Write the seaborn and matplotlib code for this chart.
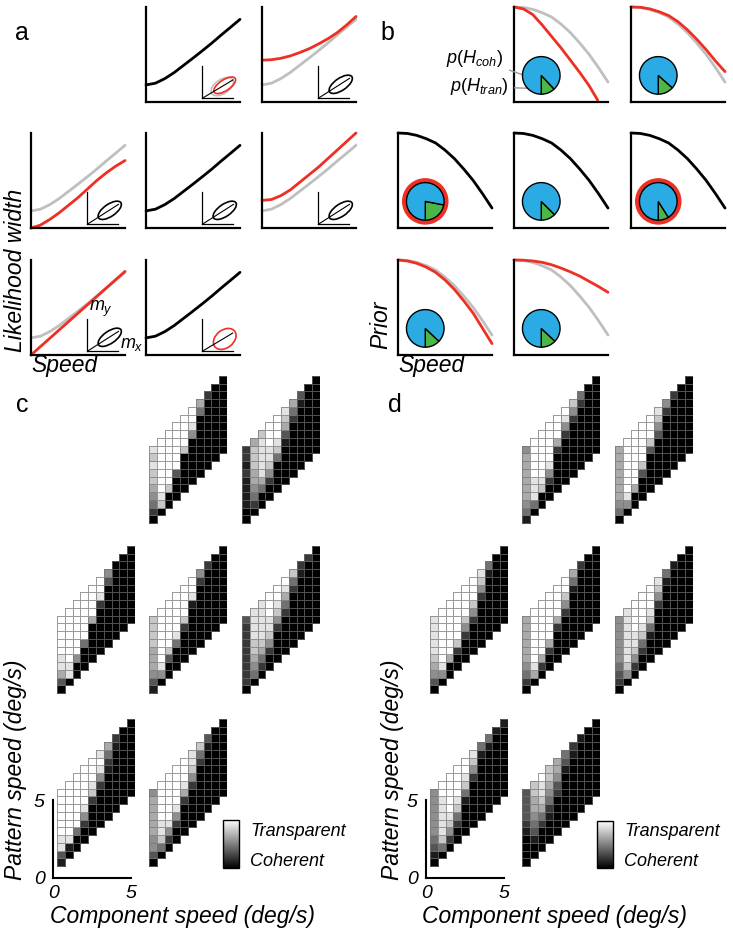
import numpy as np
import pandas as pd
import matplotlib
matplotlib.use("Agg")
import matplotlib.pyplot as plt
import seaborn as sns
from matplotlib.patches import Ellipse, Circle

# ---- panel a / b schematic curves (arbitrary units) ----
speed = [0, 1, 2, 3, 4, 5, 6, 7, 8, 9, 10]

# a: likelihood width vs speed
width_base = [1.8, 1.98, 2.46, 3.1, 3.86, 4.62, 5.4, 6.2, 7.05, 7.87, 8.7]
width_raised = [4.4, 4.45, 4.6, 4.85, 5.2, 5.6, 6.1, 6.65, 7.3, 8.1, 9.0]
width_no_floor = [0.0, 0.3, 0.9, 1.6, 2.4, 3.2, 4.1, 5.0, 5.8, 6.5, 7.1]
width_shifted = [2.9, 3.0, 3.4, 4.0, 4.8, 5.6, 6.4, 7.3, 8.2, 9.1, 10.0]
speed_linear = [0, 5, 10]
width_linear = [0.0, 4.4, 8.8]

# b: prior vs speed
prior_base = [10.0, 9.95, 9.75, 9.4, 8.95, 8.2, 7.3, 6.2, 5.0, 3.6, 2.1]
speed_narrow = [0, 1, 2, 3, 4, 5, 6, 7, 8, 8.9]
prior_narrow = [10.0, 9.8, 9.2, 8.1, 6.9, 5.7, 4.4, 3.1, 1.7, 0.2]
prior_slight = [10.0, 9.97, 9.8, 9.5, 9.1, 8.45, 7.6, 6.6, 5.5, 4.3, 3.2]
prior_low = [10.0, 9.9, 9.65, 9.25, 8.7, 7.9, 6.9, 5.7, 4.4, 2.8, 1.2]
prior_wide = [10.0, 9.98, 9.9, 9.75, 9.5, 9.15, 8.75, 8.3, 7.75, 7.2, 6.6]

# b: p(H_tran) share of each pie, and which pies get the red ring
p_tran = [0.12, 0.135, 0.22, 0.125, 0.09, 0.13, 0.13]
ring = [False, False, True, False, True, False, False]

# ---- panels c / d: model percepts ----
component = [0.5, 1.0, 1.5, 2.0, 2.5, 3.0, 3.5, 4.0, 4.5, 5.0]
pattern = [1.0, 1.5, 2.0, 2.5, 3.0, 3.5, 4.0, 4.5, 5.0, 5.5,
           6.0, 6.5, 7.0, 7.5, 8.0, 8.5, 9.0, 9.5, 10.0]
# one string per component speed, 10 cells from lowest pattern speed up
# 0 = coherent (black) ... 9 = transparent (white)
heat_c1 = ["0245677878", "0789999999", "0079999999", "0003999999", "0000079999",
           "0000005899", "0000000046", "0000000002", "0000000000", "0000000000"]
heat_c2 = ["0011112122", "0245667776", "0046888887", "0025788999", "0000478999",
           "0000013678", "0000000246", "0000000013", "0000000000", "0000000000"]
heat_c3 = ["0368899999", "0889999999", "0059999999", "0004999999", "0000069999",
           "0000002899", "0000000035", "0000000000", "0000000000", "0000000000"]
heat_c4 = ["1356667777", "0589999999", "0037999999", "0004899999", "0000279999",
           "0000001899", "0000000025", "0000000002", "0000000000", "0000000000"]
heat_c5 = ["0222222223", "0456778888", "0246788888", "0025788999", "0000257899",
           "0000024689", "0000000247", "0000000012", "0000000002", "0000000000"]
heat_c6 = ["1388999999", "0189999999", "0049999999", "0025899999", "0000278999",
           "0000025898", "0000001246", "0000000012", "0000000000", "0000000000"]
heat_c7 = ["0355666665", "0478899999", "0258999999", "0025899999", "0000268999",
           "0000025788", "0000000247", "0000000013", "0000000000", "0000000000"]

heat_d1 = ["1456666665", "0488899999", "0078999999", "0025899999", "0000026999",
           "0000002589", "0000000257", "0000000024", "0000000000", "0000000000"]
heat_d2 = ["0456666666", "0589999999", "0069999999", "0003799999", "0000037999",
           "0000003578", "0000000025", "0000000002", "0000000000", "0000000000"]
heat_d3 = ["0356788888", "0589999999", "0069999999", "0027999999", "0002579999",
           "0000257999", "0000002578", "0000000014", "0000000000", "0000000000"]
heat_d4 = ["0245666666", "0689999999", "0269999999", "0026999999", "0000269999",
           "0000025799", "0000000146", "0000000002", "0000000000", "0000000000"]
heat_d5 = ["0234555555", "0578888888", "0257889999", "0024789999", "0001478999",
           "0000002578", "0000000014", "0000000001", "0000000000", "0000000000"]
heat_d6 = ["0134555555", "0478888899", "0257899999", "0024789999", "0000147899",
           "0000002578", "0000000014", "0000000014", "0000000001", "0000000001"]
heat_d7 = ["0000123333", "0013456677", "0002467889", "0001245677", "0000023566",
           "0000000134", "0000000012", "0000000001", "0000000000", "0000000000"]

RED = '#ee2f24'
GRAY = '#bfbfbf'
BLUE = '#2aabe3'
GREEN = '#4cb649'
GRID = (0.45, 0.45, 0.45, 0.7)   # cell outline, semi transparent

sns.set_theme(style="white")
plt.rcParams['font.family'] = ['Liberation Sans', 'DejaVu Sans']
plt.rcParams['mathtext.fontset'] = 'custom'
plt.rcParams['mathtext.rm'] = 'Liberation Sans'
plt.rcParams['mathtext.it'] = 'Liberation Sans:italic'
plt.rcParams['text.color'] = 'black'
plt.rcParams['xtick.color'] = 'black'
plt.rcParams['ytick.color'] = 'black'

W, H = 733, 935
fig = plt.figure(figsize=(W / 100, H / 100), dpi=100)


def px_axes(x, y, w, h):
    """axes placed in pixel units measured from the top-left corner"""
    return fig.add_axes([x / W, 1 - (y + h) / H, w / W, h / H])


def line_axes(x, y):
    ax = px_axes(x, y, 94, 95)
    ax.set_xlim(0, 10)
    ax.set_ylim(0, 10)
    ax.set_xticks([])
    ax.set_yticks([])
    sns.despine(ax=ax)
    for side in ('left', 'bottom'):
        ax.spines[side].set_linewidth(1.6)
        ax.spines[side].set_color('black')
    ax.patch.set_visible(False)
    return ax


def draw_curves(ax, curves):
    for x, y, col in curves:
        sns.lineplot(x=x, y=y, ax=ax, color=col, lw=2.0, clip_on=False)


def ellipse_inset(ax, shapes):
    ins = ax.inset_axes([0.6, 0.04, 0.33, 0.34])
    ins.set_xlim(0, 1)
    ins.set_ylim(0, 1)
    ins.set_xticks([])
    ins.set_yticks([])
    sns.despine(ax=ins)
    for side in ('left', 'bottom'):
        ins.spines[side].set_linewidth(0.9)
        ins.spines[side].set_color('black')
    ins.patch.set_visible(False)
    for cx, cy, major, minor, ang, col in shapes:
        ins.add_patch(Ellipse((cx, cy), major, minor, angle=ang, fill=False,
                              ec=col, lw=1.2, clip_on=False))
    cx, cy, major, _, ang, _ = shapes[-1]
    t = np.deg2rad(ang)
    ins.plot([0, cx + 0.4 * major * np.cos(t)], [0, cy + 0.4 * major * np.sin(t)],
             color='black', lw=0.8, clip_on=False)
    return ins


def pie_inset(ax, p, red_ring):
    ins = ax.inset_axes([0.04, 0.03, 0.5, 0.5])
    if red_ring:
        ins.add_patch(Circle((0, 0), 1.2, color=RED, zorder=0))
    ins.pie([p, 1 - p], colors=[GREEN, BLUE], startangle=-90, counterclock=True,
            radius=1, wedgeprops=dict(edgecolor='black', linewidth=1.0))
    ins.set_xlim(-1.25, 1.25)
    ins.set_ylim(-1.25, 1.25)
    ins.axis('off')
    return ins


slots = [(0, 1), (0, 2), (1, 0), (1, 1), (1, 2), (2, 0), (2, 1)]
line_rows = [7, 133, 260]
a_cols = [31, 146, 262]
b_cols = [398, 514, 631]

a_curves = [
    [(speed, width_base, 'black')],
    [(speed, width_base, GRAY), (speed, width_raised, RED)],
    [(speed, width_base, GRAY), (speed, width_no_floor, RED)],
    [(speed, width_base, 'black')],
    [(speed, width_base, GRAY), (speed, width_shifted, RED)],
    [(speed, width_base, GRAY), (speed_linear, width_linear, RED)],
    [(speed, width_base, 'black')],
]
std_ellipse = (0.72, 0.43, 0.86, 0.38, 33, 'black')
a_ellipses = [
    [(0.64, 0.36, 0.80, 0.44, 32, GRAY), (0.72, 0.40, 0.80, 0.34, 32, RED)],
    [std_ellipse], [std_ellipse], [std_ellipse], [std_ellipse], [std_ellipse],
    [(0.72, 0.38, 0.80, 0.56, 35, RED)],
]

b_curves = [
    [(speed, prior_base, GRAY), (speed_narrow, prior_narrow, RED)],
    [(speed, prior_base, GRAY), (speed, prior_slight, RED)],
    [(speed, prior_base, 'black')],
    [(speed, prior_base, 'black')],
    [(speed, prior_base, 'black')],
    [(speed, prior_base, GRAY), (speed, prior_low, RED)],
    [(speed, prior_base, GRAY), (speed, prior_wide, RED)],
]

# panel a
for i, (r, c) in enumerate(slots):
    ax = line_axes(a_cols[c], line_rows[r])
    draw_curves(ax, a_curves[i])
    ins = ellipse_inset(ax, a_ellipses[i])
    if i == 5:
        ins.text(0.05, 1.0, '$m_y$', ha='left', va='bottom', fontsize=13)
        ins.text(1.05, -0.05, '$m_x$', ha='left', va='bottom', fontsize=13)

# panel b
for i, (r, c) in enumerate(slots):
    ax = line_axes(b_cols[c], line_rows[r])
    draw_curves(ax, b_curves[i])
    pie_inset(ax, p_tran[i], ring[i])
    if i == 0:
        ax.annotate('$p(H_{coh})$', xy=(0.17, 0.26), xytext=(-0.11, 0.46),
                    xycoords='axes fraction', textcoords='axes fraction',
                    ha='right', va='center', fontsize=13, annotation_clip=False,
                    arrowprops=dict(arrowstyle='-', color='#999999', lw=1.0))
        ax.annotate('$p(H_{tran})$', xy=(0.31, 0.14), xytext=(-0.06, 0.16),
                    xycoords='axes fraction', textcoords='axes fraction',
                    ha='right', va='center', fontsize=13, annotation_clip=False,
                    arrowprops=dict(arrowstyle='-', color='#999999', lw=1.0))

# panels c, d
cell_w, cell_h = 7.8, 7.74
heat_rows = [376, 546, 719]
c_cols = [57, 149, 242]
d_cols = [430, 522, 615]


def heat_frame(columns):
    grid = np.full((len(pattern), len(component)), np.nan)
    for j, col in enumerate(columns):
        for k, ch in enumerate(col):
            grid[j + k, j] = int(ch)
    return pd.DataFrame(grid, index=pattern, columns=component)


def x_of(v):
    return (v - component[0]) / (component[1] - component[0]) + 0.5


def y_of(v):
    return (v - pattern[0]) / (pattern[1] - pattern[0]) + 0.5


def draw_heat(x0, y0, columns, corner=False, cax=None):
    ax = px_axes(x0 - cell_w / 2, y0, cell_w * 10.5, cell_h * 20.5)
    frame = heat_frame(columns)
    sns.heatmap(frame, ax=ax, cmap='gray', vmin=0, vmax=9,
                linewidths=0.5, linecolor='#808080',
                cbar=cax is not None, cbar_ax=cax,
                xticklabels=False, yticklabels=False)
    # keep the cell outlines only on cells that hold a value
    valid = ~np.isnan(frame.values).ravel()
    edges = np.zeros((valid.size, 4))
    edges[valid] = GRID
    ax.collections[0].set_edgecolor(edges)
    ax.set_xlim(x_of(0), len(component))
    ax.set_ylim(y_of(0), len(pattern))
    for s in ax.spines.values():
        s.set_visible(False)
    ax.patch.set_visible(False)
    if corner:
        for side in ('left', 'bottom'):
            ax.spines[side].set_visible(True)
            ax.spines[side].set_color('black')
            ax.spines[side].set_linewidth(1.5)
        ax.spines['left'].set_bounds(y_of(0), y_of(5))
        ax.spines['bottom'].set_bounds(x_of(0), x_of(5))
        ax.set_xticks([x_of(0), x_of(5)])
        ax.set_xticklabels(['0', '5'], fontsize=14, style='italic')
        ax.set_yticks([y_of(0), y_of(5)])
        ax.set_yticklabels(['0', '5'], fontsize=14, style='italic')
        ax.tick_params(axis='x', length=0, pad=5)
        ax.tick_params(axis='y', length=0, pad=6)
    if cax is not None:
        cb = ax.collections[0].colorbar
        cb.set_ticks([])
        cb.outline.set_edgecolor('black')
        cb.outline.set_linewidth(1.0)
    return ax


for cols, heats, cax_px in [
        (c_cols, [heat_c1, heat_c2, heat_c3, heat_c4, heat_c5, heat_c6, heat_c7], (223, 820, 16, 48)),
        (d_cols, [heat_d1, heat_d2, heat_d3, heat_d4, heat_d5, heat_d6, heat_d7], (597, 821, 16, 47))]:
    for i, (r, c) in enumerate(slots):
        cax = px_axes(*cax_px) if i == 6 else None
        draw_heat(cols[c], heat_rows[r], heats[i], corner=(i == 5), cax=cax)
    fig.text((cax_px[0] + 27) / W, 1 - 832 / H, 'Transparent', ha='left', va='center',
             fontsize=13, style='italic')
    fig.text((cax_px[0] + 27) / W, 1 - 861 / H, 'Coherent', ha='left', va='center',
             fontsize=13, style='italic')

# labels
big = dict(fontsize=16.5, style='italic', ha='center', va='center')
fig.text(16 / W, 1 - 270 / H, 'Likelihood width', rotation=90, **big)
fig.text(64 / W, 1 - 366 / H, 'Speed', **big)
fig.text(381 / W, 1 - 325 / H, 'Prior', rotation=90, **big)
fig.text(431 / W, 1 - 366 / H, 'Speed', **big)
fig.text(16 / W, 1 - 770 / H, 'Pattern speed (deg/s)', rotation=90, **big)
fig.text(392 / W, 1 - 770 / H, 'Pattern speed (deg/s)', rotation=90, **big)
fig.text(183 / W, 1 - 917 / H, 'Component speed (deg/s)', **big)
fig.text(555 / W, 1 - 917 / H, 'Component speed (deg/s)', **big)

for letter, x, y in [('a', 22, 33), ('b', 387, 33), ('c', 22, 405), ('d', 395, 405)]:
    fig.text(x / W, 1 - y / H, letter, fontsize=18, ha='center', va='center')

fig.savefig('out.png', dpi=100)
